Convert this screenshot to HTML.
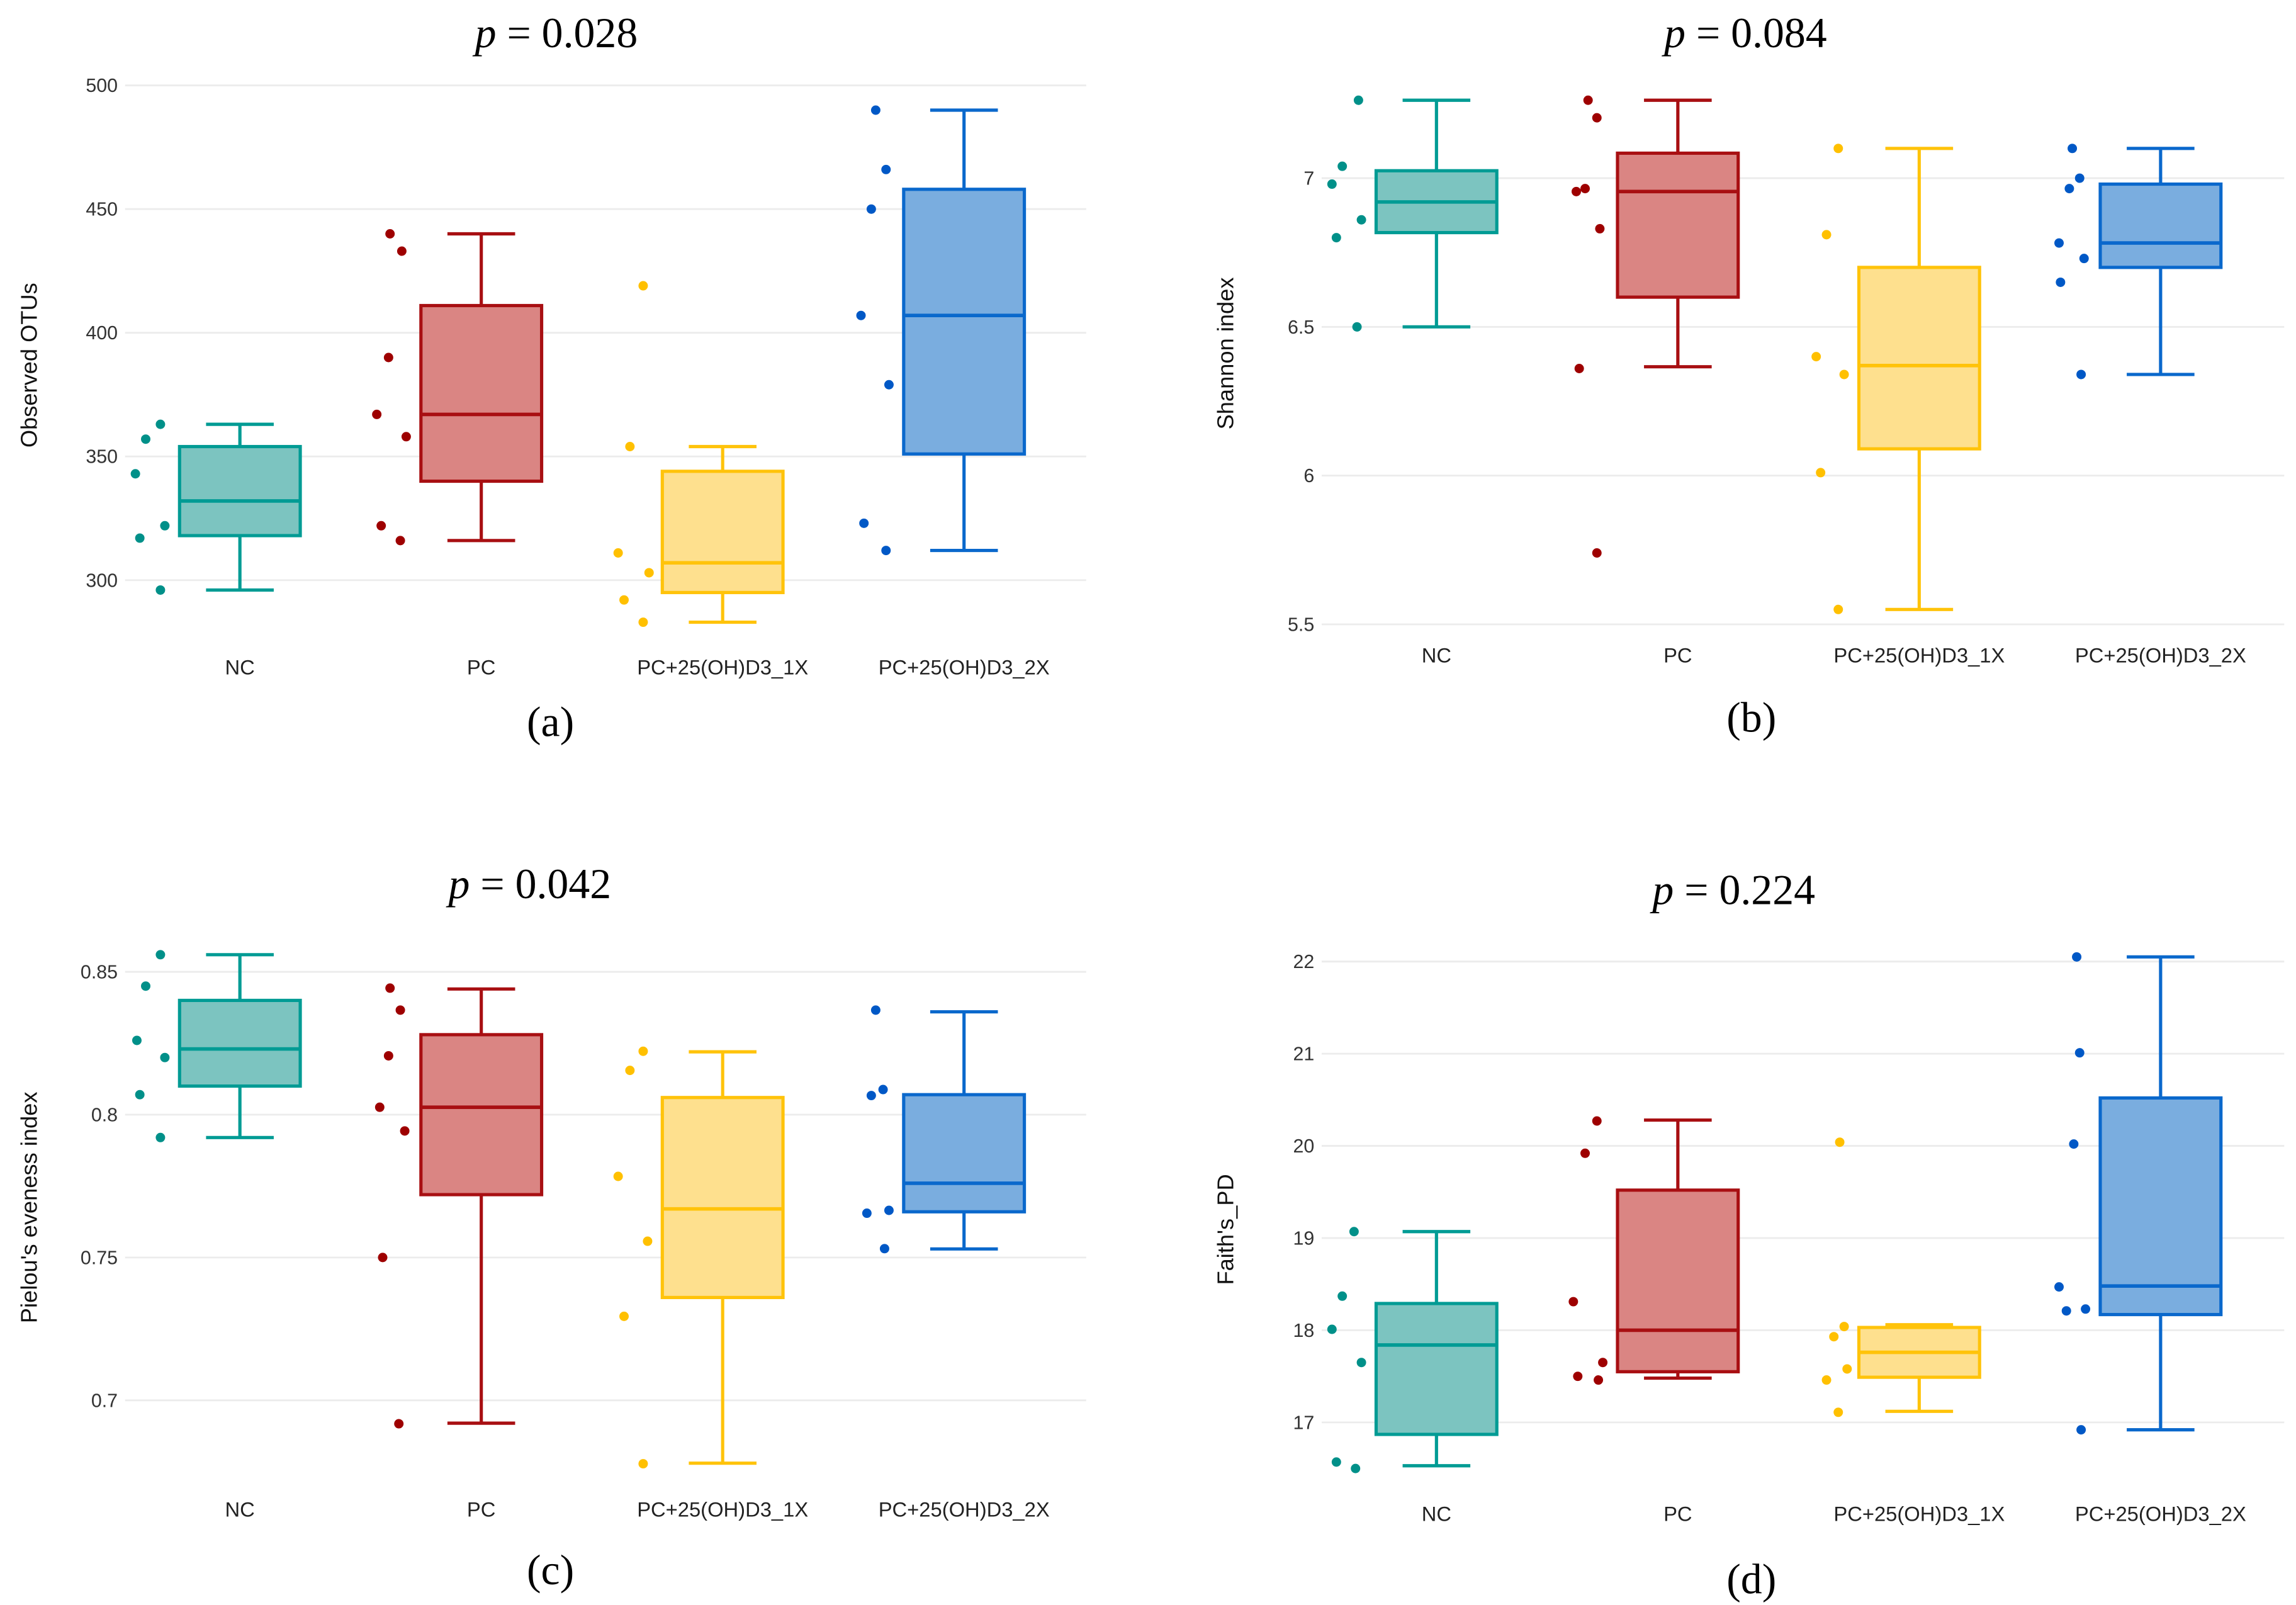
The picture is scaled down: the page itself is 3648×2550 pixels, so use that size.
<!DOCTYPE html>
<html><head><meta charset="utf-8"><style>
html,body{margin:0;padding:0;background:#fff;}
svg{display:block;}
</style></head><body>
<svg id="fig" width="3648" height="2550" viewBox="0 0 1560 1090" preserveAspectRatio="none" xmlns="http://www.w3.org/2000/svg"></svg>
<script>
// ---- shared data ----
const categories = ["NC","PC","PC+25(OH)D3_1X","PC+25(OH)D3_2X"];
// Panel (a) Observed OTUs
const aLow=[296,316,283,312], aQ1=[318,340,295,351], aMed=[332,367,307,407], aQ3=[354,411,344,458], aHigh=[363,440,354,490];
const aPoints=[[343,357,363,317,322,296],[440,433,390,367,358,322,316],[419,354,311,303,292,283],[490,466,450,407,379,323,312]];
const aJitter=[[-71,-64,-54,-68,-51,-54],[-62,-54,-63,-71,-51,-68,-55],[-54,-63,-71,-50,-67,-54],[-60,-53,-63,-70,-51,-68,-53]];
const aTicks=[300,350,400,450,500];
// Panel (b) Shannon
const bLow=[6.50,6.366,5.55,6.34], bQ1=[6.817,6.60,6.09,6.70], bMed=[6.92,6.955,6.37,6.782], bQ3=[7.025,7.084,6.70,6.98], bHigh=[7.262,7.262,7.10,7.10];
const bPoints=[[7.262,7.04,6.98,6.86,6.80,6.50],[7.262,7.203,6.965,6.955,6.83,6.36,5.74],[7.10,6.81,6.40,6.34,6.01,5.55],[7.10,7.00,6.965,6.782,6.73,6.65,6.34]];
const bJitter=[[-53,-64,-71,-51,-68,-54],[-61,-55,-63,-69,-53,-67,-55],[-55,-63,-70,-51,-67,-55],[-60,-55,-62,-69,-52,-68,-54]];
const bTicks=[5.5,6,6.5,7];
// Panel (c) Pielou
const cLow=[0.792,0.692,0.678,0.753], cQ1=[0.810,0.772,0.736,0.766], cMed=[0.823,0.8026,0.767,0.776], cQ3=[0.840,0.828,0.806,0.807], cHigh=[0.856,0.844,0.822,0.836];
const cPoints=[[0.856,0.845,0.826,0.820,0.807,0.792],[0.8443,0.8366,0.8206,0.8026,0.7943,0.75,0.6918],[0.8222,0.8155,0.7784,0.7557,0.7294,0.6778],[0.8366,0.8088,0.8067,0.7665,0.7655,0.7531]];
const cJitter=[[-54,-64,-70,-51,-68,-54],[-62,-55,-63,-69,-52,-67,-56],[-54,-63,-71,-51,-67,-54],[-60,-55,-63,-51,-66,-54]];
const cTicks=[0.7,0.75,0.8,0.85];
// Panel (d) Faith's PD
const dLow=[16.53,17.48,17.12,16.92], dQ1=[16.87,17.55,17.49,18.17], dMed=[17.84,18.00,17.76,18.48], dQ3=[18.29,19.52,18.03,20.52], dHigh=[19.07,20.28,18.06,22.05];
const dPoints=[[19.07,18.37,18.01,17.65,16.57,16.50],[20.27,19.92,18.31,17.50,17.46,17.65],[20.04,18.04,17.93,17.58,17.46,17.11],[22.05,21.01,20.02,18.47,18.21,18.23,16.92]];
const dJitter=[[-56,-64,-71,-51,-68,-55],[-55,-63,-71,-68,-54,-51],[-54,-51,-58,-49,-63,-55],[-57,-55,-59,-69,-64,-51,-54]];
const dTicks=[17,18,19,20,21,22];

const strokeC=["#009B94","#A80F12","#FFC30A","#0A68CC"];
const fillC=["#7CC4C0","#DA8583","#FEE08E","#7AADDF"];
const ptC=["#009089","#9E0000","#FFC000","#0058C6"];

const NS="http://www.w3.org/2000/svg";
const svg=document.getElementById("fig");
function mk(tag,attrs,parent){const e=document.createElementNS(NS,tag);for(const k in attrs)e.setAttribute(k,attrs[k]);(parent||svg).appendChild(e);return e;}

function panel(cfg){
  const g=mk("g",{});
  
  
  const y=v=>cfg.yA+(v-cfg.vA)*(cfg.yB-cfg.yA)/(cfg.vB-cfg.vA);
  const xc=i=>cfg.cx0+i*164;
  cfg.ticks.forEach(t=>{
    const gl=mk("line",{x1:cfg.gx0,x2:cfg.gx1,y1:y(t),y2:y(t),stroke:"#ececec","stroke-width":1.2},g);
    
    
    const tl=mk("text",{x:cfg.gx0-5,y:y(t)+4.5,"text-anchor":"end","font-family":"Liberation Sans, sans-serif","font-size":13,fill:"#333"},g);
    tl.textContent=String(t);
    
    
  });
  categories.forEach((c,i)=>{
    const cx=xc(i);
    const bg=mk("g",{},g);
    
    
    mk("line",{x1:cx,x2:cx,y1:y(cfg.low[i]),y2:y(cfg.q1[i]),stroke:strokeC[i],"stroke-width":2.2},bg);
    mk("line",{x1:cx,x2:cx,y1:y(cfg.q3[i]),y2:y(cfg.high[i]),stroke:strokeC[i],"stroke-width":2.2},bg);
    mk("line",{x1:cx-23,x2:cx+23,y1:y(cfg.low[i]),y2:y(cfg.low[i]),stroke:strokeC[i],"stroke-width":2.2},bg);
    mk("line",{x1:cx-23,x2:cx+23,y1:y(cfg.high[i]),y2:y(cfg.high[i]),stroke:strokeC[i],"stroke-width":2.2},bg);
    mk("rect",{x:cx-41,width:82,y:y(cfg.q3[i]),height:y(cfg.q1[i])-y(cfg.q3[i]),fill:fillC[i],stroke:strokeC[i],"stroke-width":2.2},bg);
    mk("line",{x1:cx-41,x2:cx+41,y1:y(cfg.med[i]),y2:y(cfg.med[i]),stroke:strokeC[i],"stroke-width":2.4},bg);
    cfg.pts[i].forEach((v,j)=>{
      const p=mk("circle",{cx:cx+cfg.jit[i][j],cy:y(v),r:3.2,fill:ptC[i]},g);
      
      
    });
    const xl=mk("text",{x:cx,y:cfg.xlY,"text-anchor":"middle","font-family":"Liberation Sans, sans-serif","font-size":14,fill:"#222"},g);
    xl.textContent=c;
    
    
  });
  const yt=mk("text",{x:0,y:0,transform:`translate(${cfg.ytX},${cfg.ytY}) rotate(-90)`,"text-anchor":"middle","font-family":"Liberation Sans, sans-serif","font-size":15.5,fill:"#111"},g);
  yt.textContent=cfg.ytitle;
  
  
  const tt=mk("text",{x:cfg.tX,y:cfg.tY,"text-anchor":"middle","font-family":"Liberation Serif, serif","font-size":29,fill:"#000"},g);
  tt.innerHTML='<tspan font-style="italic">p</tspan> = '+cfg.p;
  
  
  const pl=mk("text",{x:cfg.lX,y:cfg.lY,"text-anchor":"middle","font-family":"Liberation Serif, serif","font-size":29,fill:"#000"},g);
  pl.textContent=cfg.label;
  
  
}

panel({id:"a",low:aLow,q1:aQ1,med:aMed,q3:aQ3,high:aHigh,pts:aPoints,jit:aJitter,ticks:aTicks,
  yA:394,vA:300,yB:58,vB:500,gx0:85,gx1:738,cx0:163,xlY:458,ytX:25,ytY:248,ytitle:"Observed OTUs",
  tX:378,tY:32,p:"0.028",lX:374,lY:500,label:"(a)"});
panel({id:"b",low:bLow,q1:bQ1,med:bMed,q3:bQ3,high:bHigh,pts:bPoints,jit:bJitter,ticks:bTicks,
  yA:424,vA:5.5,yB:121,vB:7,gx0:898,gx1:1552,cx0:976,xlY:450,ytX:838,ytY:240,ytitle:"Shannon index",
  tX:1186,tY:32,p:"0.084",lX:1190,lY:497,label:"(b)"});
panel({id:"c",low:cLow,q1:cQ1,med:cMed,q3:cQ3,high:cHigh,pts:cPoints,jit:cJitter,ticks:cTicks,
  yA:951,vA:0.7,yB:660,vB:0.85,gx0:85,gx1:738,cx0:163,xlY:1030,ytX:25,ytY:820,ytitle:"Pielou's eveness index",
  tX:360,tY:610,p:"0.042",lX:374,lY:1076,label:"(c)"});
panel({id:"d",low:dLow,q1:dQ1,med:dMed,q3:dQ3,high:dHigh,pts:dPoints,jit:dJitter,ticks:dTicks,
  yA:966,vA:17,yB:653,vB:22,gx0:898,gx1:1552,cx0:976,xlY:1033,ytX:838,ytY:835,ytitle:"Faith's_PD",
  tX:1178,tY:614,p:"0.224",lX:1190,lY:1082,label:"(d)"});
</script>
</body></html>
